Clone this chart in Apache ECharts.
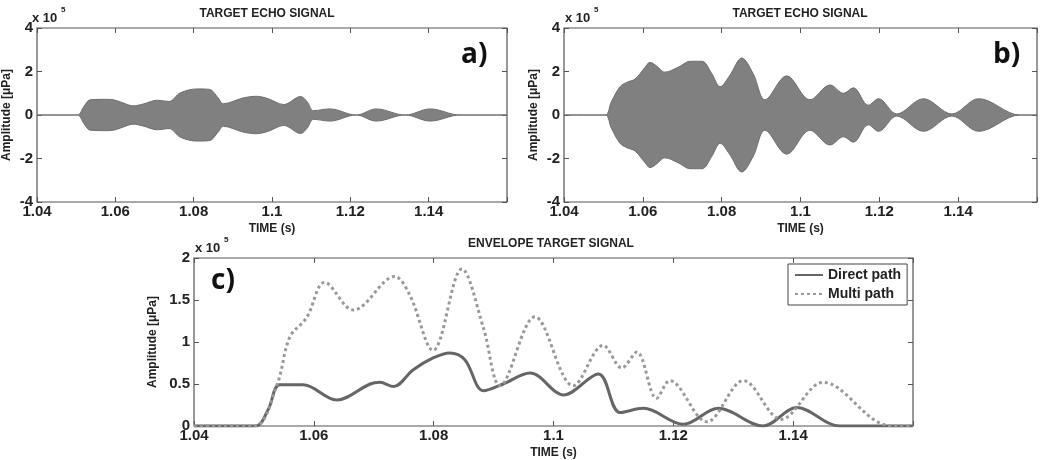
<!DOCTYPE html>
<html>
<head>
<meta charset="utf-8">
<script src="https://cdn.jsdelivr.net/npm/echarts@6/dist/echarts.min.js"></script>
<style>
  html, body { margin: 0; padding: 0; background: #fff; }
  #chart { width: 1044px; height: 460px; }
</style>
</head>
<body>
<div id="chart"></div>
<script>
// values in units of 1e5 uPa, time in seconds
const timeA = [1.04, 1.0503, 1.052, 1.0536, 1.058, 1.06, 1.0625, 1.0645, 1.067, 1.0708, 1.0737, 1.0766, 1.081, 1.084, 1.0862, 1.0876, 1.0926, 1.096, 1.099, 1.103, 1.1073, 1.109, 1.1106, 1.1148, 1.1215, 1.1266, 1.134, 1.1404, 1.148, 1.16]
const envA = [0, 0, 0.4, 0.7, 0.72, 0.68, 0.52, 0.42, 0.5, 0.68, 0.62, 1.02, 1.2, 1.18, 0.8, 0.52, 0.78, 0.86, 0.75, 0.48, 0.85, 0.6, 0.2, 0.28, 0, 0.28, 0, 0.28, 0, 0]

const timeB = [1.04, 1.0504, 1.052, 1.0542, 1.0559, 1.058, 1.0606, 1.0618, 1.0635, 1.0656, 1.069, 1.072, 1.075, 1.0775, 1.0796, 1.082, 1.0851, 1.088, 1.091, 1.0965, 1.1024, 1.1075, 1.1109, 1.1134, 1.1172, 1.1198, 1.1244, 1.1312, 1.1384, 1.1452, 1.1557, 1.16]
const envB = [0, 0, 0.6, 1.3, 1.5, 1.65, 2.2, 2.42, 2.25, 1.97, 2.2, 2.47, 2.47, 1.9, 1.3, 1.8, 2.62, 1.9, 0.7, 1.8, 0.7, 1.38, 1.0, 1.25, 0.45, 0.75, 0.05, 0.75, 0.05, 0.75, 0, 0]

const timeDirect = [1.04, 1.0503, 1.0524, 1.0543, 1.0582, 1.0638, 1.0694, 1.071, 1.0733, 1.0766, 1.0799, 1.0827, 1.0852, 1.0883, 1.0916, 1.0961, 1.1017, 1.1075, 1.1111, 1.115, 1.1217, 1.1275, 1.135, 1.1406, 1.1478, 1.16]
const direct = [0, 0, 0.2, 0.49, 0.49, 0.31, 0.5, 0.52, 0.47, 0.67, 0.81, 0.87, 0.79, 0.42, 0.5, 0.63, 0.37, 0.62, 0.16, 0.21, 0.02, 0.21, 0, 0.22, 0, 0]

const timeMulti = [1.04, 1.05, 1.0538, 1.056, 1.0588, 1.0618, 1.0666, 1.0735, 1.076, 1.0799, 1.0847, 1.0883, 1.0911, 1.0969, 1.1033, 1.1083, 1.1114, 1.1139, 1.1172, 1.1194, 1.1256, 1.1317, 1.138, 1.145, 1.155, 1.1578, 1.16]
const multi = [0, 0, 0.48, 1.06, 1.29, 1.71, 1.38, 1.78, 1.56, 0.9, 1.87, 1.17, 0.48, 1.30, 0.48, 0.96, 0.69, 0.88, 0.33, 0.54, 0.05, 0.54, 0.08, 0.52, 0.02, 0, 0]

const timeTicks = [1.04, 1.16, 0.02]
const ampTicks = [-4, 4, 2]
const envTicks = [0, 2, 0.5]

const FONT = 'Liberation Sans'
const pairs = (t, v, sign = 1) => t.map((x, i) => [x, sign * v[i]])

const grids = [
  { left: 31, top: 28, width: 476, height: 174 },
  { left: 564, top: 28, width: 473, height: 174 },
  { left: 194, top: 258, width: 719, height: 174 }
]

const tickStyle = { show: true, inside: true, length: 5, lineStyle: { color: '#555', width: 1 } }
const noLine = { show: false, onZero: false }
const labelStyle = { color: '#222', fontFamily: FONT, fontWeight: 'bold', fontSize: 15 }
const nameStyle = { color: '#222', fontFamily: FONT, fontWeight: 'bold', fontSize: 12 }

const xAxes = []
const yAxes = []
grids.forEach((g, i) => {
  const yt = i < 2 ? ampTicks : envTicks
  xAxes.push({
    type: 'value', gridIndex: i, min: timeTicks[0], max: timeTicks[1], interval: timeTicks[2],
    axisLine: noLine, axisTick: tickStyle, splitLine: { show: false },
    axisLabel: Object.assign({ margin: 2, formatter: v => v > 1.15 ? '' : String(+v.toFixed(2)) }, labelStyle),
    name: 'TIME (s)', nameLocation: 'middle', nameGap: 21, nameTextStyle: nameStyle
  })
  yAxes.push({
    type: 'value', gridIndex: i, min: yt[0], max: yt[1], interval: yt[2],
    axisLine: noLine, axisTick: tickStyle, splitLine: { show: false },
    axisLabel: Object.assign({ margin: 4 }, labelStyle),
    name: 'Amplitude [μPa]', nameLocation: 'middle', nameGap: i < 2 ? 24 : 32, nameTextStyle: nameStyle
  })
})
// tick marks on the top and right edges of each box
grids.forEach((g, i) => {
  const yt = i < 2 ? ampTicks : envTicks
  xAxes.push({
    type: 'value', gridIndex: i, position: 'top', min: timeTicks[0], max: timeTicks[1], interval: timeTicks[2],
    axisLine: noLine, axisTick: tickStyle, axisLabel: { show: false }, splitLine: { show: false }
  })
  yAxes.push({
    type: 'value', gridIndex: i, position: 'right', min: yt[0], max: yt[1], interval: yt[2],
    axisLine: noLine, axisTick: tickStyle, axisLabel: { show: false }, splitLine: { show: false }
  })
})

function echoSeries(idx, t, v) {
  return [1, -1].map(sign => ({
    type: 'line', xAxisIndex: idx, yAxisIndex: idx, data: pairs(t, v, sign),
    symbol: 'none', smooth: 0.35, silent: true,
    lineStyle: { color: '#6e6e6e', width: 1 },
    areaStyle: { color: '#808080', opacity: 1 }
  }))
}

const text = (x, y, str, size, extra) => ({
  type: 'text', x: x, y: y, silent: true,
  style: Object.assign({ text: str, fill: '#222', font: 'bold ' + size + 'px "' + FONT + '"' }, extra || {})
})

const graphics = [
  text(267, 8, 'TARGET ECHO SIGNAL', 12, { textAlign: 'center' }),
  text(800, 8, 'TARGET ECHO SIGNAL', 12, { textAlign: 'center' }),
  text(551, 238, 'ENVELOPE TARGET SIGNAL', 12, { textAlign: 'center' })
]
;[[32, 12], [565, 12], [195, 242]].forEach(p => {
  graphics.push(text(p[0], p[1], 'x 10', 13))
  graphics.push(text(p[0] + 29, p[1] - 6, '5', 8))
})
const panelFont = 'bold 28px "Open Sans"'
graphics.push(
  { type: 'text', x: 461, y: 41, silent: true, style: { text: 'a)', fill: '#111', font: panelFont } },
  { type: 'text', x: 993, y: 41, silent: true, style: { text: 'b)', fill: '#111', font: panelFont } },
  { type: 'text', x: 211, y: 267, silent: true, style: { text: 'c)', fill: '#111', font: panelFont } }
)

const chart = echarts.init(document.getElementById('chart'))
chart.setOption({
  animation: false,
  backgroundColor: '#fff',
  grid: grids.map(g => Object.assign({ show: true, borderColor: '#555', borderWidth: 1.2, backgroundColor: '#fff' }, g)),
  xAxis: xAxes,
  yAxis: yAxes,
  legend: {
    data: ['Direct path', 'Multi path'],
    orient: 'vertical', left: 788, top: 264,
    itemWidth: 28, itemHeight: 12, itemGap: 5,
    padding: [4, 6, 4, 6],
    borderColor: '#444', borderWidth: 1, backgroundColor: '#fff',
    itemStyle: { opacity: 0 },
    textStyle: { color: '#222', fontFamily: FONT, fontWeight: 'bold', fontSize: 14 }
  },
  graphic: graphics,
  series: [
    ...echoSeries(0, timeA, envA),
    ...echoSeries(1, timeB, envB),
    {
      name: 'Direct path', type: 'line', xAxisIndex: 2, yAxisIndex: 2,
      data: pairs(timeDirect, direct), symbol: 'none', smooth: 0.35,
      lineStyle: { color: '#666', width: 3 }, itemStyle: { color: '#666' }
    },
    {
      name: 'Multi path', type: 'line', xAxisIndex: 2, yAxisIndex: 2,
      data: pairs(timeMulti, multi), symbol: 'none', smooth: 0.35,
      lineStyle: { color: '#999', width: 3, type: [3, 3] }, itemStyle: { color: '#999' }
    }
  ]
})
</script>
</body>
</html>
